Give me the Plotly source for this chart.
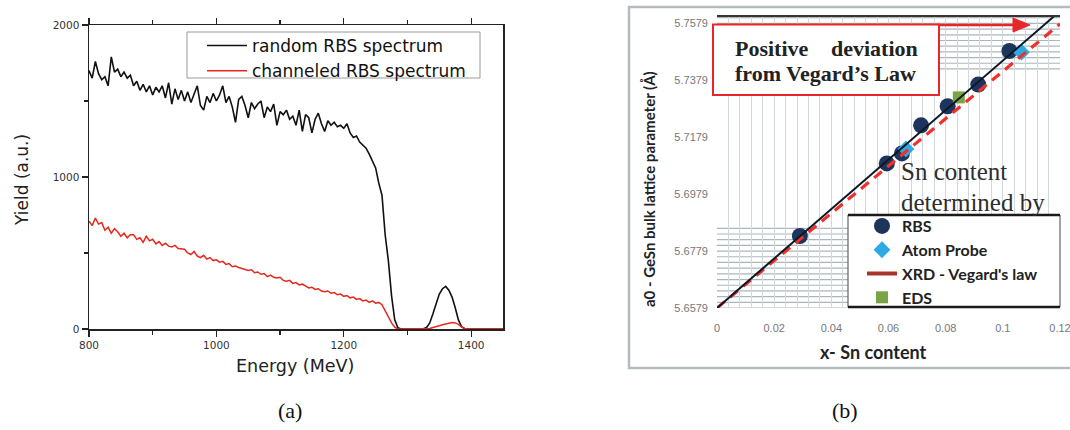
import plotly.graph_objects as go

W, H = 1070, 430
def px(x): return x / W
def py(y): return 1 - y / H

# ---------------- Panel (a): RBS spectra ----------------
energy = list(range(800, 1451, 5))
random_yield = [
    1700, 1650, 1760, 1680, 1640, 1660, 1600, 1790, 1690, 1710,
    1660, 1690, 1650, 1670, 1600, 1630, 1570, 1610, 1560, 1600,
    1540, 1590, 1560, 1600, 1520, 1620, 1480, 1580, 1510, 1570,
    1500, 1560, 1490, 1540, 1600, 1470, 1440, 1530, 1490, 1550,
    1500, 1540, 1600, 1490, 1530, 1460, 1360, 1510, 1530, 1470,
    1390, 1490, 1450, 1480, 1500, 1390, 1460, 1430, 1480, 1340,
    1430, 1410, 1440, 1380, 1400, 1340, 1440, 1300, 1410, 1390,
    1290, 1380, 1420, 1350, 1300, 1370, 1340, 1360, 1330, 1340,
    1320, 1350, 1290, 1260, 1270, 1230, 1210, 1190, 1150, 1110,
    1060, 960, 880, 620, 450, 220, 60, 8, 0, 0,
    0, 0, 0, 0, 0, 2, 10, 40, 100, 170,
    230, 265, 280, 255, 210, 140, 60, 15, 2, 0,
    0, 0, 0, 0, 0, 0, 0, 0, 0, 0, 0,
]
channeled_yield = [
    710, 680, 730, 690, 700, 650, 670, 630, 660, 640,
    610, 630, 600, 620, 620, 590, 600, 570, 610, 580,
    590, 560, 575, 550, 565, 545, 540, 550, 530, 525,
    525, 500, 490, 510, 480, 470, 485, 460, 470, 450,
    455, 440, 445, 425, 430, 410, 415, 405, 400, 395,
    385, 390, 370, 375, 360, 365, 345, 355, 340, 335,
    340, 320, 315, 320, 300, 305, 290, 295, 280, 270,
    275, 260, 265, 250, 245, 250, 235, 240, 225, 230,
    215, 220, 205, 210, 195, 200, 185, 190, 175, 185,
    170, 175, 160, 120, 80, 40, 12, 0, 0, 0,
    0, 0, 0, 0, 0, 0, 0, 3, 10, 18,
    22, 28, 32, 38, 42, 40, 30, 12, 3, 0,
    0, 0, 0, 0, 0, 0, 0, 0, 0, 0, 0,
]

# ---------------- Panel (b): lattice parameter ----------------
rbs_x = [0.029, 0.0594, 0.0647, 0.0714, 0.0807, 0.0914, 0.1023]
rbs_y = [5.6832, 5.7087, 5.7122, 5.7221, 5.7288, 5.7364, 5.7482]
apt_x = [0.0661, 0.1065]
apt_y = [5.7138, 5.7478]
eds_x = [0.0846]
eds_y = [5.7319]
vegard_x = [0.0, 0.12]
vegard_y = [5.6579, 5.7577]
fit_x = [0.0, 0.12]
fit_y = [5.6579, 5.7622]
b_xticks = [0, 0.02, 0.04, 0.06, 0.08, 0.10, 0.12]
b_xticklabels = ["0", "0.02", "0.04", "0.06", "0.08", "0.1", "0.12"]
b_yticks = [5.6579, 5.6779, 5.6979, 5.7179, 5.7379, 5.7579]
b_yticklabels = ["5.6579", "5.6779", "5.6979", "5.7179", "5.7379", "5.7579"]

fig = go.Figure()

fig.add_trace(go.Scatter(x=energy, y=random_yield, mode="lines",
                         line=dict(color="#111111", width=1.6),
                         name="random RBS spectrum", xaxis="x", yaxis="y",
                         legend="legend"))
fig.add_trace(go.Scatter(x=energy, y=channeled_yield, mode="lines",
                         line=dict(color="#e8281e", width=1.5),
                         name="channeled RBS spectrum", xaxis="x", yaxis="y",
                         legend="legend"))

fig.add_trace(go.Scatter(x=rbs_x, y=rbs_y, mode="markers", name="RBS",
                         marker=dict(symbol="circle", size=16, color="#1d355c"),
                         xaxis="x2", yaxis="y2", legend="legend2", legendrank=1,
                         legendgroup="g1"))
fig.add_trace(go.Scatter(x=apt_x, y=apt_y, mode="markers", name="Atom Probe",
                         marker=dict(symbol="diamond", size=13, color="#2eaae2"),
                         xaxis="x2", yaxis="y2", legend="legend2", legendrank=2,
                         legendgroup="g2"))
fig.add_trace(go.Scatter(x=eds_x, y=eds_y, mode="markers", name="EDS",
                         marker=dict(symbol="square", size=12, color="#78a445"),
                         xaxis="x2", yaxis="y2", legend="legend2", legendrank=4,
                         legendgroup="g4"))
fig.add_trace(go.Scatter(x=vegard_x, y=vegard_y, mode="lines",
                         line=dict(color="#f0302a", width=3.2, dash="10px,7px"),
                         showlegend=False, xaxis="x2", yaxis="y2"))
fig.add_trace(go.Scatter(x=[None], y=[None], mode="lines",
                         name="XRD - Vegard's law",
                         line=dict(color="#a8352d", width=4),
                         xaxis="x2", yaxis="y2", legend="legend2", legendrank=3,
                         legendgroup="g3"))
fig.add_trace(go.Scatter(x=fit_x, y=fit_y, mode="lines",
                         line=dict(color="#0d1826", width=2),
                         showlegend=False, xaxis="x2", yaxis="y2"))

axis_font_a = dict(family="DejaVu Sans", size=10.5, color="#333333")
fig.update_layout(
    width=W, height=H,
    margin=dict(l=0, r=0, t=0, b=0, autoexpand=False),
    paper_bgcolor="white", plot_bgcolor="rgba(0,0,0,0)",
    xaxis=dict(domain=[px(89), px(503)], range=[800, 1450], anchor="y",
               automargin=False,
               tick0=800, dtick=200, ticks="outside", ticklen=6, tickwidth=1.2,
               tickcolor="#222", minor=dict(dtick=100, ticks="outside", ticklen=4,
                                            tickcolor="#222"),
               showline=True, linecolor="#222", linewidth=1.5, mirror="ticks",
               showgrid=False, zeroline=False, tickfont=axis_font_a),
    yaxis=dict(domain=[py(329), py(25)], range=[0, 2000], anchor="x",
               automargin=False,
               tick0=0, dtick=1000, ticks="outside", ticklen=6, tickwidth=1.2,
               tickcolor="#222", minor=dict(dtick=500, ticks="outside", ticklen=4,
                                            tickcolor="#222"),
               showline=True, linecolor="#222", linewidth=1.5, mirror=True,
               showgrid=False, zeroline=False, tickfont=axis_font_a),
    xaxis2=dict(domain=[px(717), px(1060)], range=[0, 0.12], anchor="y2",
                automargin=False, ticklabeloverflow="allow",
                tickvals=b_xticks, ticktext=b_xticklabels, ticks="",
                showgrid=True, gridcolor="#d2d9dc", gridwidth=1,
                minor=dict(dtick=0.004, tick0=0, showgrid=True,
                           gridcolor="#d2d9dc", gridwidth=1),
                showline=False, zeroline=False, ticklabelstandoff=12,
                tickfont=dict(family="Liberation Sans", size=11, color="#777777")),
    yaxis2=dict(domain=[py(308), py(16)], range=[5.6579, 5.7605], anchor="x2",
                automargin=False,
                tickvals=b_yticks, ticktext=b_yticklabels, ticks="",
                showgrid=False, showline=False, zeroline=False,
                ticklabelstandoff=8,
                tickfont=dict(family="Liberation Sans", size=11, color="#777777")),
    legend=dict(x=px(202), y=py(28), xanchor="left", yanchor="top",
                bgcolor="rgba(0,0,0,0)", borderwidth=0, itemwidth=40,
                font=dict(family="DejaVu Sans", size=17, color="#111111"),
                tracegroupgap=0),
    legend2=dict(x=px(862), y=py(209), xanchor="left", yanchor="top",
                 bgcolor="rgba(0,0,0,0)", borderwidth=0, itemwidth=30,
                 font=dict(family="Lato", size=16, color="#222222", weight="bold"),
                 tracegroupgap=0),
)

shapes = []
# panel (a) legend box
shapes.append(dict(type="rect", xref="paper", yref="paper",
                   x0=px(187), x1=px(480), y0=py(78), y1=py(32),
                   line=dict(color="#9a9a9a", width=1), fillcolor="white",
                   layer="above"))
# panel (b) outer frame
shapes.append(dict(type="rect", xref="paper", yref="paper",
                   x0=px(629), x1=px(1080), y0=py(368), y1=py(7),
                   line=dict(color="#b3bbbf", width=2.5), layer="below"))
# horizontal grid bands of panel (b)
for i in range(15):
    yv = 5.6579 + 0.002 * i
    shapes.append(dict(type="line", xref="x2", yref="y2", x0=0, x1=0.12,
                       y0=yv, y1=yv, line=dict(color="#aab6bc", width=1.2),
                       layer="below"))
for i in range(10):
    yv = 5.7419 + 0.002 * i
    shapes.append(dict(type="line", xref="x2", yref="y2", x0=0, x1=0.12,
                       y0=yv, y1=yv, line=dict(color="#aab6bc", width=1.2),
                       layer="below"))
# top frame line of plot area (b)
shapes.append(dict(type="line", xref="paper", yref="paper",
                   x0=px(717), x1=px(1060), y0=py(16), y1=py(16),
                   line=dict(color="#3a3232", width=2), layer="above"))
# red text box
shapes.append(dict(type="rect", xref="paper", yref="paper",
                   x0=px(713), x1=px(939), y0=py(95), y1=py(24.5),
                   line=dict(color="#e8262a", width=2), fillcolor="white",
                   layer="above"))
# red arrow
shapes.append(dict(type="line", xref="paper", yref="paper",
                   x0=px(939), x1=px(1016), y0=py(25), y1=py(25),
                   line=dict(color="#e8262a", width=2.5), layer="above"))
shapes.append(dict(type="path", xref="paper", yref="paper",
                   path=f"M {px(1013)} {py(18)} L {px(1030)} {py(25)} L {px(1013)} {py(32)} Z",
                   line=dict(color="#e8262a", width=1), fillcolor="#e8262a",
                   layer="above"))
# legend box (b)
shapes.append(dict(type="rect", xref="paper", yref="paper",
                   x0=px(848), x1=px(1060), y0=py(307), y1=py(215),
                   line=dict(color="#444444", width=1), fillcolor="white",
                   layer="above"))
for yy in (215, 307):
    shapes.append(dict(type="line", xref="paper", yref="paper",
                       x0=px(848), x1=px(1060), y0=py(yy), y1=py(yy),
                       line=dict(color="#1a1a1a", width=2.5), layer="above"))
fig.update_layout(shapes=shapes)

serif = "Liberation Serif"
ann = []
def add_text(text, x, y, size, family, color="#222222", xanchor="center",
             weight="normal", angle=0):
    ann.append(dict(text=text, x=px(x), y=py(y), xref="paper", yref="paper",
                    xanchor=xanchor, yanchor="middle", showarrow=False,
                    textangle=angle,
                    font=dict(family=family, size=size, color=color, weight=weight)))

add_text("Energy (MeV)", 295, 366, 17.5, "DejaVu Sans", "#222222")
add_text("Yield (a.u.)", 22, 180, 17, "DejaVu Sans", "#222222", angle=-90)
add_text("(a)", 290, 410, 22, serif, "#111111")
add_text("(b)", 845, 410, 22, serif, "#111111")
add_text("x- Sn content", 873, 352, 18, "Lato", "#222222", weight="bold")
add_text("a0 - GeSn bulk lattice parameter (Å)", 649, 189, 15, "Lato", "#222222",
         weight="bold", angle=-90)
add_text("Sn content", 899, 171, 25, serif, "#2e2e2e", xanchor="left")
add_text("determined by", 899, 202, 25, serif, "#2e2e2e", xanchor="left")
add_text("Positive", 733, 48, 22, serif, "#222222", xanchor="left", weight="bold")
add_text("deviation", 920, 48, 22, serif, "#222222", xanchor="right", weight="bold")
add_text("from Vegard’s Law", 733, 73, 22, serif, "#222222", xanchor="left",
         weight="bold")
fig.update_layout(annotations=ann)

fig.write_html("out.html",
               config={"displayModeBar": False, "staticPlot": True},
               post_script="document.body.style.margin='0';")
